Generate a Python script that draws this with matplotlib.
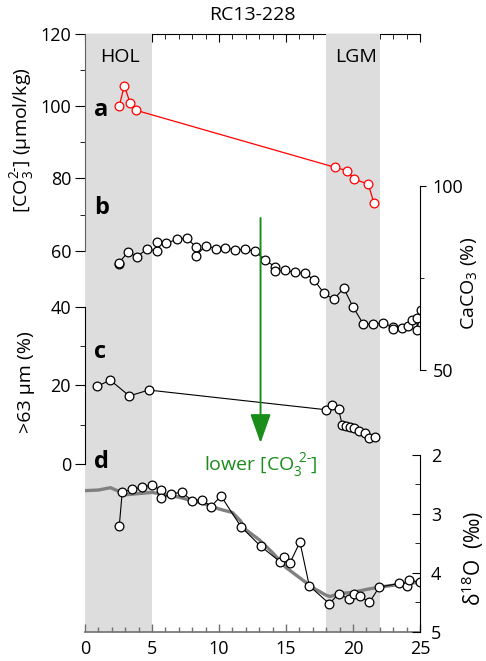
import numpy as np
import matplotlib.pyplot as plt
from matplotlib.ticker import MultipleLocator

plt.rcParams['font.family'] = ['Open Sans', 'DejaVu Sans']
plt.rcParams['mathtext.fontset'] = 'custom'
plt.rcParams['mathtext.rm'] = 'Open Sans'

# (a) deep water carbonate ion
co3_age = [2.56, 2.93, 3.38, 3.78, 18.63, 19.58, 20.10, 21.14, 21.57]
co3_val = [100.0, 105.7, 100.8, 98.9, 83.1, 82.1, 79.8, 78.4, 73.1]

# (b) CaCO3 content
caco3_age = [2.56, 2.56, 3.19, 3.88, 4.60, 5.35, 5.35, 6.07, 6.84, 7.59, 8.28, 8.28,
             9.03, 9.74, 10.47, 11.21, 11.94, 12.69, 13.43, 14.16, 14.16, 14.90,
             15.65, 16.40, 17.09, 17.84, 18.56, 19.31, 20.02, 20.77, 21.47, 22.22,
             22.95, 22.95, 23.66, 24.07, 24.44, 24.78, 24.78, 25.07]
caco3_val = [78.7, 79.2, 82.0, 80.8, 82.8, 82.4, 84.9, 84.4, 85.5, 85.8, 83.5, 81.1,
             83.8, 83.0, 83.2, 82.6, 82.8, 82.3, 79.9, 78.1, 76.8, 77.2,
             76.5, 76.3, 74.5, 70.8, 69.2, 72.2, 67.0, 62.5, 62.4, 62.7,
             61.8, 61.1, 61.3, 61.9, 63.5, 64.0, 60.9, 66.3]

# (c) >63 um fraction
coarse_age = [0.92, 1.89, 3.31, 4.75, 17.97, 18.47, 18.92, 19.20, 19.48, 19.78,
              20.07, 20.45, 20.93, 21.21, 21.64]
coarse_val = [19.8, 21.3, 17.3, 18.8, 13.8, 15.1, 14.0, 9.8, 9.7, 9.3,
              9.1, 8.5, 7.8, 6.6, 6.8]

# (d) benthic d18O and stack
d18o_age = [2.56, 2.78, 3.50, 4.25, 4.97, 5.70, 5.70, 6.45, 7.21, 8.02, 8.71, 9.40,
            10.15, 11.64, 13.11, 14.55, 14.88, 15.30, 16.04, 16.74, 18.23, 18.96,
            19.70, 20.10, 20.52, 21.22, 21.96, 23.43, 24.00, 24.20, 25.00]
d18o_val = [3.20, 2.63, 2.59, 2.55, 2.52, 2.60, 2.74, 2.66, 2.64, 2.78, 2.76, 2.88,
            2.70, 3.22, 3.55, 3.81, 3.73, 3.83, 3.48, 4.22, 4.52, 4.35,
            4.45, 4.35, 4.39, 4.50, 4.24, 4.18, 4.22, 4.12, 4.16]
stack_age = [0, 1, 1.9, 2.5, 3, 4, 5, 6, 7, 8, 9, 10, 11, 11.6, 12, 13, 14, 15, 16,
             17, 18, 18.3, 19, 20, 21, 22, 23, 24, 25]
stack_val = [2.61, 2.60, 2.56, 2.62, 2.68, 2.66, 2.64, 2.68, 2.72, 2.78, 2.84, 2.92,
             2.98, 3.12, 3.27, 3.44, 3.66, 3.91, 4.08, 4.25, 4.38, 4.40, 4.35, 4.33,
             4.28, 4.24, 4.21, 4.18, 4.16]

FS = 13
LFS = 14
green = '#1a8c1a'
mk = dict(marker='o', ms=6.3, mfc='white', mew=0.9)

fig = plt.figure(figsize=(4.86, 6.61), dpi=100)
ax = fig.add_axes([85 / 486, 1 - 632 / 661, 335 / 486, 598 / 661])
ax.set_xlim(0, 25)
ax.set_ylim(0, 1)
ax.axvspan(0, 5, color='#dddddd', lw=0)
ax.axvspan(18, 22, color='#dddddd', lw=0)
for s in ['left', 'right', 'top']:
    ax.spines[s].set_visible(False)
ax.spines['bottom'].set_color('#707070')
ax.spines['bottom'].set_linewidth(1.2)
ax.xaxis.set_major_locator(MultipleLocator(5))
ax.xaxis.set_minor_locator(MultipleLocator(1))
ax.tick_params(axis='x', which='both', direction='in', colors='#707070',
               labelcolor='black', labelsize=FS, pad=6)
ax.tick_params(axis='x', which='major', length=6, width=1)
ax.tick_params(axis='x', which='minor', length=3.5, width=1)
top = ax.secondary_xaxis('top')
top.xaxis.set_major_locator(MultipleLocator(5))
top.xaxis.set_minor_locator(MultipleLocator(1))
top.tick_params(which='both', direction='in', labeltop=False)
top.tick_params(which='major', length=6)
top.tick_params(which='minor', length=3.5)
ax.text(0.5, 1.032, 'RC13-228', transform=ax.transAxes, ha='center', va='center',
        fontsize=LFS)
ax.text(2.6, 0.962, 'HOL', ha='center', va='center', fontsize=LFS)
ax.text(20.2, 0.962, 'LGM', ha='center', va='center', fontsize=LFS)


def make_twin(side, lim, bounds):
    t = ax.twinx()
    t.set_ylim(*lim)
    for s in ['left', 'right', 'top', 'bottom']:
        t.spines[s].set_visible(False)
    t.spines[side].set_visible(True)
    t.spines[side].set_bounds(*bounds)
    if side == 'left':
        t.yaxis.tick_left()
        t.yaxis.set_label_position('left')
    t.tick_params(axis='y', labelsize=FS)
    return t


# panel a
axa = make_twin('left', (-45.65, 120), (60, 120))
axa.spines['left'].set_color('#606060')
axa.set_yticks([60, 80, 100, 120])
axa.set_yticks([70, 90, 110], minor=True)
axa.tick_params(axis='y', which='major', direction='out', length=7, pad=3)
axa.tick_params(axis='y', which='minor', direction='out', length=3.5)
axa.plot(co3_age, co3_val, color='red', lw=0.9, mec='red', **mk)
ax.text(-0.185, (632 - 140) / 598, r'[CO$_3^{2\text{-}}$] (µmol/kg)', transform=ax.transAxes,
        rotation=90, ha='center', va='center', fontsize=LFS)

# panel b
axb = make_twin('right', (-21.2, 141.3), (50, 100))
axb.set_yticks([50, 100])
axb.set_yticks([75], minor=True)
axb.tick_params(axis='y', which='major', direction='out', length=4, pad=5)
axb.tick_params(axis='y', which='minor', direction='out', length=3)
axb.plot(caco3_age, caco3_val, color='black', lw=0.8, mec='black', **mk)
ax.text(1.15, (632 - 283) / 598, r'CaCO$_3$ (%)', transform=ax.transAxes,
        rotation=90, ha='center', va='center', fontsize=LFS)

# panel c
axc = make_twin('left', (-42.7, 109.3), (0, 40))
axc.set_yticks([0, 20, 40])
axc.set_yticks([10, 30], minor=True)
axc.tick_params(axis='y', which='major', direction='out', length=7, pad=3)
axc.tick_params(axis='y', which='minor', direction='out', length=3.5)
axc.plot(coarse_age, coarse_val, color='black', lw=0.8, mec='black', **mk)
ax.text(-0.175, (632 - 382) / 598, '>63 µm (%)', transform=ax.transAxes,
        rotation=90, ha='center', va='center', fontsize=LFS)

# panel d
axd = make_twin('right', (5.0, -5.11), (2, 5))
axd.set_yticks([2, 3, 4, 5])
axd.set_yticks([2.5, 3.5, 4.5], minor=True)
axd.tick_params(axis='y', which='major', direction='in', length=6, pad=8)
axd.tick_params(axis='y', which='minor', direction='in', length=3.5)
axd.plot(stack_age, stack_val, color='#808080', lw=2.4, solid_capstyle='round')
axd.plot(d18o_age, d18o_val, color='black', lw=0.8, mec='black', **mk)
ax.text(1.158, (632 - 558) / 598, 'δ$^{18}$O  (‰)', transform=ax.transAxes,
        rotation=90, ha='center', va='center', fontsize=LFS + 1)

ax.set_yticks([])

# panel letters
for lab, yf in [('a', (632 - 110) / 598), ('b', (632 - 208) / 598),
                ('c', (632 - 352) / 598), ('d', (632 - 462) / 598)]:
    axd.text(0.028, yf, lab, transform=axd.transAxes, fontsize=LFS + 3,
             fontweight='bold', ha='left', va='center')

# arrow and note
axd.annotate('', xy=(13.1, (632 - 443) / 598), xytext=(13.1, (632 - 218) / 598),
             xycoords=('data', 'axes fraction'), textcoords=('data', 'axes fraction'),
             arrowprops=dict(arrowstyle='-|>,head_length=0.9,head_width=0.32',
                             color=green, lw=1.4, mutation_scale=20, shrinkA=0, shrinkB=0))
axd.text(13.1, (632 - 466) / 598, r'lower [CO$_3^{\ 2\text{-}}$]', transform=axd.get_xaxis_transform(),
         ha='center', va='center', color=green, fontsize=LFS)

fig.savefig('out.png', dpi=100)
